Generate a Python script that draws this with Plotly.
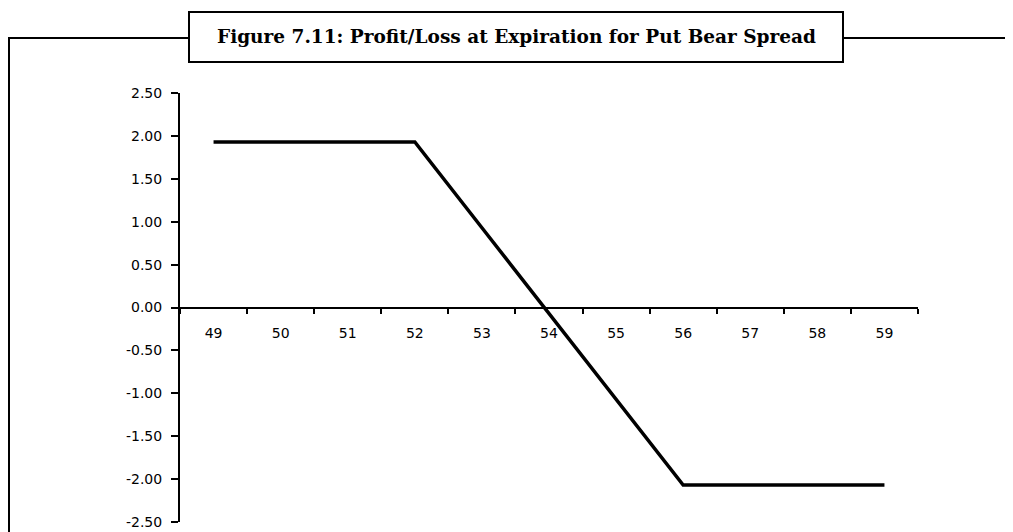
import plotly.graph_objects as go

# Put bear spread: profit/loss at expiration
prices = ["49", "50", "51", "52", "53", "54", "55", "56", "57", "58", "59"]
profit = [1.93, 1.93, 1.93, 1.93, 0.93, -0.07, -1.07, -2.07, -2.07, -2.07, -2.07]
y_ticks = [2.5, 2.0, 1.5, 1.0, 0.5, 0.0, -0.5, -1.0, -1.5, -2.0, -2.5]
title_text = "Figure 7.11: Profit/Loss at Expiration for Put Bear Spread"

W, H = 1013, 532
OFF = 8  # page body margin
pw, ph = 738, 429
L, T = 180 - OFF, 93 - OFF
R, B = W - L - pw, H - T - ph


def px_x(v):
    # page pixel -> paper x
    return (v - OFF - L) / pw


def px_y(v):
    # page pixel -> paper y
    return (T + ph - (v - OFF)) / ph


fig = go.Figure()
fig.add_trace(go.Scatter(
    x=prices,
    y=profit,
    mode="lines",
    line=dict(color="black", width=3.5),
    hoverinfo="skip",
))

tick_font = dict(family="DejaVu Sans", size=14, color="black")

fig.update_layout(
    width=W,
    height=H,
    margin=dict(l=L, r=R, t=T, b=B, autoexpand=False),
    showlegend=False,
    plot_bgcolor="white",
    paper_bgcolor="white",
    xaxis=dict(
        type="category",
        range=[-0.5, len(prices) - 0.5],
        anchor="free",
        position=0.5,
        automargin=False,
        showline=True,
        linecolor="black",
        linewidth=2,
        ticks="outside",
        tickson="boundaries",
        ticklen=5,
        tickwidth=2,
        tickcolor="black",
        showgrid=False,
        zeroline=False,
        tickfont=tick_font,
        ticklabelstandoff=13,
    ),
    yaxis=dict(
        range=[-2.5, 2.5],
        tickvals=y_ticks,
        ticktext=[f"{v:.2f}" for v in y_ticks],
        automargin=False,
        showline=True,
        linecolor="black",
        linewidth=2,
        ticks="outside",
        ticklen=7,
        tickwidth=2,
        tickcolor="black",
        showgrid=False,
        zeroline=False,
        tickfont=tick_font,
        ticklabelstandoff=6,
    ),
    shapes=[
        # outer frame
        dict(type="rect", xref="paper", yref="paper",
             x0=px_x(9), x1=px_x(1040), y0=px_y(580), y1=px_y(38),
             line=dict(color="black", width=2), layer="above"),
        # title box
        dict(type="rect", xref="paper", yref="paper",
             x0=px_x(189), x1=px_x(843), y0=px_y(62), y1=px_y(12),
             fillcolor="white", line=dict(color="black", width=2), layer="above"),
    ],
    annotations=[dict(
        text="<b>" + title_text + "</b>",
        xref="paper", yref="paper",
        x=px_x(516), y=px_y(37),
        xanchor="center", yanchor="middle",
        showarrow=False,
        font=dict(family="DejaVu Serif", size=18.5, color="black"),
    )],
)

fig.write_html("out.html")
